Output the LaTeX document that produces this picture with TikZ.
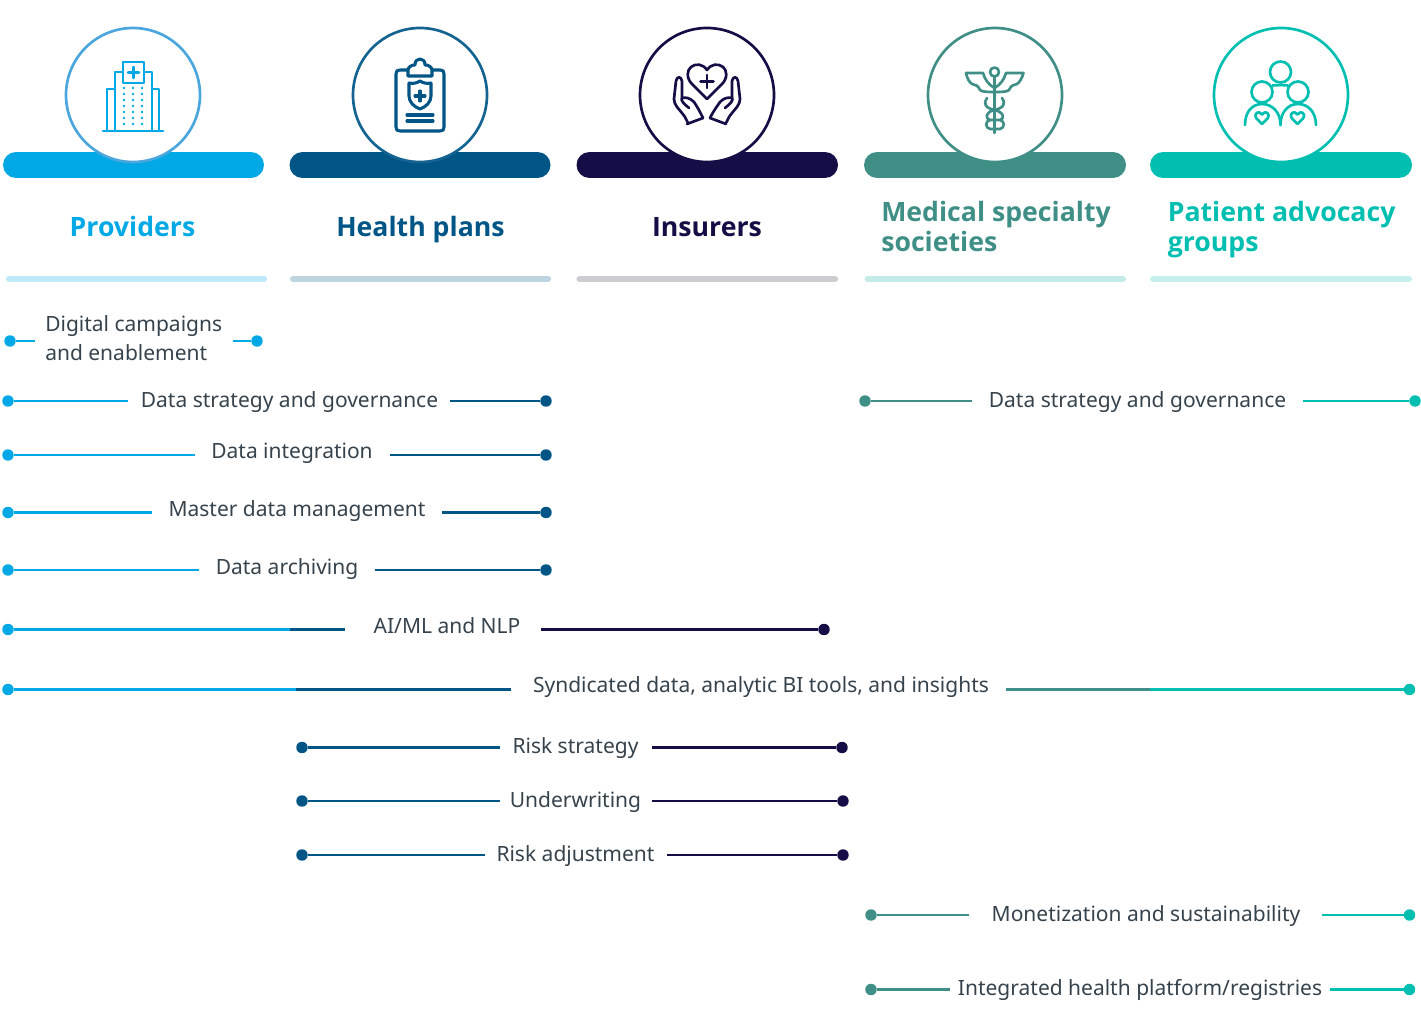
\documentclass[tikz,border=0pt]{standalone}
\usepackage{fontspec}
\setmainfont{Noto Sans}
\newfontfamily\hdrfont{Open Sans}
\definecolor{cA}{HTML}{00A9E6}
\definecolor{cB}{HTML}{005587}
\definecolor{cC}{HTML}{150D45}
\definecolor{cD}{HTML}{3F8F86}
\definecolor{cE}{HTML}{00BFB0}
\definecolor{cR}{HTML}{4AA6DC}
\definecolor{cT}{HTML}{36424C}
\definecolor{rA}{HTML}{BFE9F8}
\definecolor{rB}{HTML}{BFD4E1}
\definecolor{rC}{HTML}{CDCDD1}
\definecolor{rD}{HTML}{C5EBE8}
\definecolor{rE}{HTML}{C5EFEB}
\tikzset{
 x=0.75pt,y=-0.75pt,
 hdr/.style={font=\hdrfont\fontsize{20pt}{22.5pt}\selectfont\bfseries,inner sep=0pt,align=left},
 lbl/.style={font=\fontsize{15.75pt}{21.8pt}\selectfont,inner sep=0pt,text=cT,align=left},
 bar/.style={line width=19.5pt,line cap=round},
 rulebar/.style={line width=4.6pt,line cap=round},
 ring/.style={circle,draw,fill=white,line width=2pt,minimum size=100.5pt,inner sep=0pt},
 conn/.style={line width=2pt},
 dotn/.style={circle,fill,inner sep=0pt,minimum size=8.6pt},
 ico/.style={line width=2pt,line join=round,line cap=round},
}
% name, y, left colour, left dot x, left line end x, right line start x, right colour, right dot x, extras
\newcommand{\rowlink}[9]{%
 \node[dotn,#3] (#1L) at (#4,#2) {};
 \node[dotn,#7] (#1R) at (#8,#2) {};
 \coordinate (#1a) at (#5,#2);
 \coordinate (#1b) at (#6,#2);
 \draw[conn,#3] (#1L) -- (#1a);
 \draw[conn,#7] (#1b) -- (#1R);
 #9}
\begin{document}
\begin{tikzpicture}
\useasboundingbox (0,0) rectangle (1421,1023);
% bars
\foreach \n/\a/\b/\c in {a/16/251/cA,b/302.5/537.5/cB,c/589.5/825/cC,d/877/1113/cD,e/1163/1399/cE}{
 \coordinate (bar\n l) at (\a,165);
 \coordinate (bar\n r) at (\b,165);
 \draw[bar,\c] (bar\n l) -- (bar\n r);
}
\foreach \n/\a/\b/\c in {a/9/264/rA,b/293/548/rB,c/579.5/835/rC,d/867.5/1123/rD,e/1153/1409/rE}{
 \coordinate (ru\n l) at (\a,279);
 \coordinate (ru\n r) at (\b,279);
 \draw[rulebar,\c] (ru\n l) -- (ru\n r);
}
% circles
\node[ring,draw=cR] (ca) at (133,95) {};
\node[ring,draw=cB!92!white] (cb) at (420,95) {};
\node[ring,draw=cC] (cc) at (707,95) {};
\node[ring,draw=cD] (cd) at (995,95) {};
\node[ring,draw=cE] (ce) at (1281,95) {};
% hospital icon
\begin{scope}[ico,cA]
 \draw (103,131) -- (163,131);
 \draw (107,131) -- (107,89) -- (115,89);
 \draw (115,131) -- (115,72) -- (123,72);
 \draw (144,72) -- (152,72) -- (152,131);
 \draw (152,89) -- (159,89) -- (159,131);
 \draw (123,62) rectangle (144,83);
 \draw[line width=2.2pt] (133.5,67) -- (133.5,78) (128,72.5) -- (139,72.5);
 \foreach \yy in {88,94,100,106,112,118,124}{
  \foreach \xx in {124,133,142}{
   \fill (\xx,\yy) circle (1.35);
  }}
\end{scope}
% clipboard icon
\begin{scope}[ico,cB]
 \draw[line width=2.3pt] (408,70) -- (400,70) .. controls (397,70) and (396,71) .. (396,74) -- (396,127) .. controls (396,130) and (397,131) .. (400,131) -- (440,131) .. controls (443,131) and (444,130) .. (444,127) -- (444,74) .. controls (444,71) and (443,70) .. (440,70) -- (432,70);
 \draw[line width=2.3pt] (408,76) -- (432,76) -- (432,70) .. controls (432,67) and (428,65) .. (426,65) -- (425,65) .. controls (425,61) and (423,59) .. (420,59) .. controls (417,59) and (415,61) .. (415,65) -- (414,65) .. controls (412,65) and (408,67) .. (408,70) -- cycle;
 \draw[line width=2.3pt] (409,83) .. controls (413,84) and (417,83) .. (420,81) .. controls (423,83) and (427,84) .. (431,83) -- (431,96) .. controls (431,102) and (426,107) .. (420,109) .. controls (414,107) and (409,102) .. (409,96) -- cycle;
 \draw[line width=2.3pt] (420,91) -- (420,101) (415,96) -- (425,96);
 \draw[line width=2.3pt] (407,115) -- (433,115) (407,121) -- (433,121);
\end{scope}
% hands icon
\begin{scope}[ico,cC]
 \draw (707,99) -- (692,84) .. controls (686,78) and (687,70) .. (691,67) .. controls (696,63) and (703,64) .. (707,70) .. controls (711,64) and (718,63) .. (723,67) .. controls (727,70) and (728,78) .. (722,84) -- cycle;
 \draw[line width=2.2pt] (707,75) -- (707,88) (700.5,81.5) -- (713.5,81.5);
 \draw (703,118) -- (687,124);
 \draw (703,118) .. controls (699,110) and (698,108) .. (694,102) .. controls (690,98) and (686,97) .. (682,98);
 \draw (682,98) .. controls (680,100) and (684,104) .. (689,108);
 \draw (688,123) .. controls (685,117) and (684,115) .. (682,113) -- (677,107) .. controls (675,104) and (674,102) .. (674,99) -- (676,81) .. controls (677,76) and (681,76) .. (682,81) -- (682,98);
 \draw (710,118) -- (726,124);
 \draw (710,118) .. controls (714,110) and (716,108) .. (720,102) .. controls (724,98) and (728,97) .. (732,98);
 \draw (732,98) .. controls (734,100) and (730,104) .. (725,108);
 \draw (726,123) .. controls (729,117) and (730,115) .. (732,113) -- (737,107) .. controls (739,104) and (740,102) .. (740,99) -- (738,81) .. controls (737,76) and (733,76) .. (732,81) -- (732,98);
\end{scope}
% caduceus icon
\begin{scope}[ico,cD]
 \draw (994.5,72) circle (4.5);
 \draw (994.5,76.5) -- (994.5,133);
 \draw (994.5,92) .. controls (988,92) and (982,92) .. (980,90) .. controls (978,85) and (975,85) .. (972,84) .. controls (969,82) and (967,78) .. (966,73) -- (983,73) .. controls (985,80) and (989,85) .. (994.5,88);
 \draw (994.5,92) .. controls (1001,92) and (1007,92) .. (1009,90) .. controls (1011,85) and (1014,85) .. (1017,84) .. controls (1020,82) and (1022,78) .. (1023.5,73) -- (1006,73) .. controls (1004,80) and (1000,85) .. (994.5,88);
 \draw (987,98) .. controls (983,103) and (985,108) .. (994.5,110) .. controls (1004,112) and (1005,119) .. (1000,120) -- (990,120) .. controls (985,121) and (985,128) .. (990,129) -- (1000,129) .. controls (1005,128) and (1005,121) .. (1000,120);
 \draw (1002,98) .. controls (1006,103) and (1004,108) .. (994.5,110) .. controls (985,112) and (985,119) .. (990,120);
\end{scope}
% people icon
\begin{scope}[ico,cE]
 \draw (1280.5,72) circle (10.5);
 \draw (1262,92) circle (10.5);
 \draw (1298,92) circle (10.5);
 \draw (1272.5,85.5) .. controls (1276,85) and (1285,85) .. (1288,85.5);
 \draw (1245,125) .. controls (1245,112) and (1252,104) .. (1262,104) .. controls (1272,104) and (1280.5,112) .. (1280.5,125);
 \draw (1280.5,125) .. controls (1280.5,112) and (1288,104) .. (1298,104) .. controls (1308,104) and (1316,112) .. (1316,125);
 \foreach \hx in {1262,1297.5}{
  \draw (\hx,124) -- (\hx-5.5,118.5) .. controls (\hx-9,113) and (\hx-3,110) .. (\hx,114.5) .. controls (\hx+3,110) and (\hx+9,113) .. (\hx+5.5,118.5) -- cycle;
 }
\end{scope}
% headers
\node[hdr,text=cA,anchor=base] (h1) at (132.5,236.5) {Providers};
\node[hdr,text=cB,anchor=base] (h2) at (420.5,236.5) {Health plans};
\node[hdr,text=cC,anchor=base] (h3) at (707,236.5) {Insurers};
\node[hdr,text=cD,anchor=west] (h4) at (881,227) {Medical specialty\\societies};
\node[hdr,text=cE,anchor=west] (h5) at (1167.5,230) {Patient advocacy\\groups};
% rows
\node[lbl,anchor=west] (t1) at (45,338) {Digital campaigns\\and enablement};
\rowlink{r1}{341}{cA}{10}{35}{233}{cA}{257}{}
\node[lbl,anchor=base] (t2) at (289.5,407.5) {Data strategy and governance};
\rowlink{r2}{401}{cA}{8}{128}{450}{cB}{546}{}
\node[lbl,anchor=base] (t2b) at (1137.5,407.5) {Data strategy and governance};
\rowlink{r2b}{401}{cD}{865}{972}{1303}{cE}{1415}{}
\node[lbl,anchor=base] (t3) at (292,458.5) {Data integration};
\rowlink{r3}{455}{cA}{8}{195}{390}{cB}{546}{}
\node[lbl,anchor=base] (t4) at (297,516.5) {Master data management};
\rowlink{r4}{512.5}{cA}{8}{152}{442}{cB}{546}{}
\node[lbl,anchor=base] (t5) at (287,574.5) {Data archiving};
\rowlink{r5}{570}{cA}{8}{199}{375}{cB}{546}{}
\node[lbl,anchor=base] (t6) at (447,633.5) {AI/ML and NLP};
\rowlink{r6}{629.5}{cA}{8}{290}{581}{cC}{824}{
 \coordinate (r6c) at (345,629.5); \coordinate (r6d) at (541,629.5);
 \draw[conn,cB] (r6a) -- (r6c);
 \draw[conn,cC] (r6d) -- (r6b);}
\node[lbl,anchor=base] (t7) at (761,692.5) {Syndicated data, analytic BI tools, and insights};
\rowlink{r7}{689.5}{cA}{8}{296}{1150}{cE}{1409.5}{
 \coordinate (r7c) at (511,689.5); \coordinate (r7d) at (1006,689.5);
 \draw[conn,cB] (r7a) -- (r7c);
 \draw[conn,cD] (r7d) -- (r7b);}
\node[lbl,anchor=base] (t8) at (575.5,753.5) {Risk strategy};
\rowlink{r8}{747.5}{cB}{302}{500}{652}{cC}{842}{}
\node[lbl,anchor=base] (t9) at (575.5,807.5) {Underwriting};
\rowlink{r9}{801}{cB}{302}{500}{652}{cC}{843}{}
\node[lbl,anchor=base] (t10) at (575.5,861.5) {Risk adjustment};
\rowlink{r10}{855}{cB}{302}{485}{667}{cC}{843}{}
\node[lbl,anchor=base] (t11) at (1146,921.5) {Monetization and sustainability};
\rowlink{r11}{915}{cD}{871}{969}{1322}{cE}{1409.5}{}
\node[lbl,anchor=base] (t12) at (1140,995.5) {Integrated health platform/registries};
\rowlink{r12}{989.5}{cD}{871}{950}{1330}{cE}{1409.5}{}
\end{tikzpicture}
\end{document}
